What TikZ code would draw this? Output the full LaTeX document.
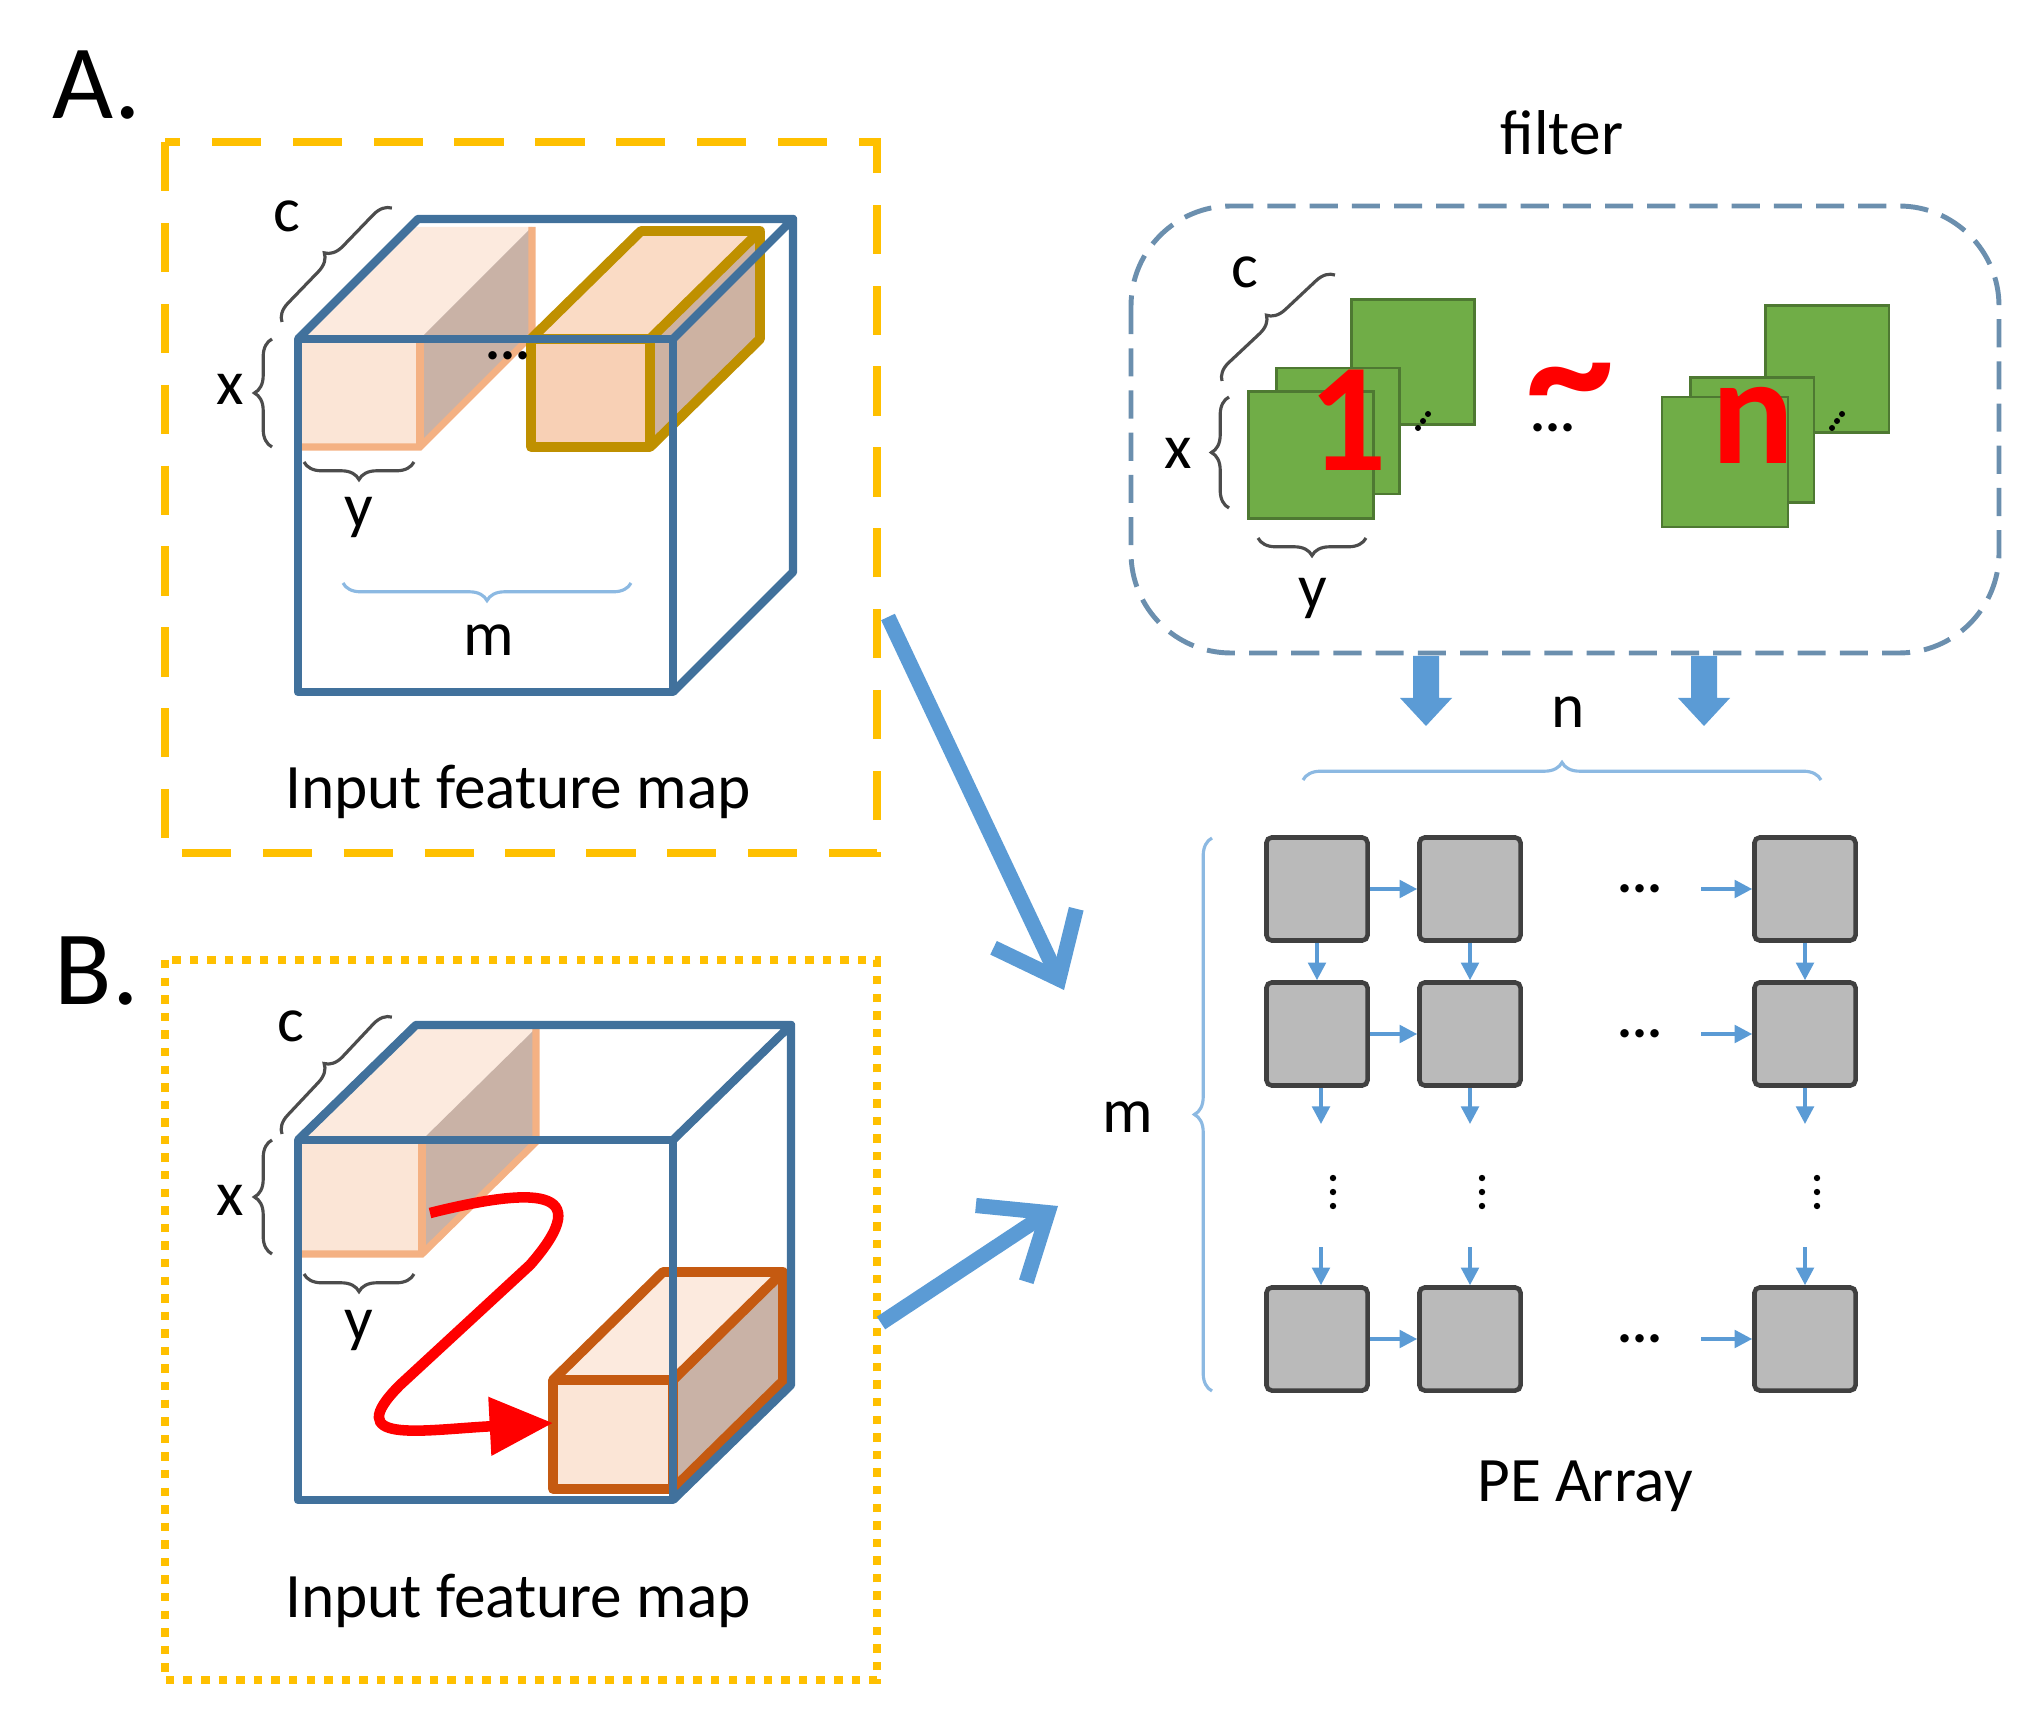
\documentclass[tikz,border=0pt]{standalone}
\usepackage{fontspec}
\setmainfont{Carlito}
\usepackage{xcolor}
\usetikzlibrary{calc,arrows.meta,decorations.pathreplacing}
\definecolor{cubeblue}{HTML}{41719C}
\definecolor{flowblue}{HTML}{5B9BD5}
\definecolor{peach}{HTML}{FBE5D6}
\definecolor{peachtop}{HTML}{FCEADE}
\definecolor{sidetone}{HTML}{C9B2A6}
\definecolor{peachline}{HTML}{F4B183}
\definecolor{goldline}{HTML}{BF9000}
\definecolor{rustline}{HTML}{C55A11}
\definecolor{filtgreen}{HTML}{70AD47}
\definecolor{boxgold}{HTML}{FFC000}
\tikzset{
  lbl/.style={font=\fontsize{18}{19}\selectfont},
  dots/.style={font=\fontsize{16}{16}\selectfont\bfseries},
  cube/.style={cubeblue, line width=2.4pt, line join=round},
  brc/.style={decorate, decoration={brace, amplitude=5pt, aspect=0.5}, black!70, line width=0.9pt},
  lbrc/.style={decorate, decoration={brace, amplitude=5pt}, flowblue!70, line width=0.9pt},
  pe/.style={draw=black!75, fill=black!27, line width=1.3pt, rounded corners=1.5pt, minimum width=1.01cm, minimum height=1.03cm, inner sep=0pt},
  sheet/.style={draw=filtgreen!70!black, fill=filtgreen, line width=0.6pt},
  link/.style={flowblue, line width=1pt, -{Triangle[length=5pt, width=5pt]}},
  bigarrow/.style={flowblue, line width=4.3pt, -{Straight Barb[length=16pt, width=26pt, line width=4.3pt]}},
}
\begin{document}
\begin{tikzpicture}[x=0.01cm, y=-0.01cm]
  \useasboundingbox (0,0) rectangle (2030,1725);
  % panel A
  \node[font=\fontsize{30}{32}\selectfont] (labA) at (97,85) {A.};
  \draw[boxgold, line width=2.2pt, dash pattern=on 14pt off 9pt] (165,142) rectangle (877,853);
  \fill[peachtop] (298,339) -- (420,339) -- (532,227) -- (410,227) -- cycle;
  \fill[sidetone] (420,339) -- (532,227) -- (532,335) -- (420,447) -- cycle;
  \fill[peach] (298,339) rectangle (420,447);
  \draw[peachline, line width=2pt] (298,447) -- (420,447) -- (532,335) -- (532,227);
  \draw[peachline, line width=2pt] (420,339) -- (420,447);
  \fill[peach!80!peachline] (531,339) -- (650,339) -- (760,231) -- (641,231) -- cycle;
  \fill[sidetone!90!peachline] (650,339) -- (760,231) -- (760,339) -- (650,447) -- cycle;
  \fill[peach!60!peachline] (531,339) rectangle (650,447);
  \draw[goldline, line width=2.8pt, line join=round] (531,339) rectangle (650,447)
    (531,339) -- (641,231) -- (760,231) -- (650,339) (760,231) -- (760,339) -- (650,447);
  \node[dots] (dotsA) at (508,356) {...};
  \draw[cube] (298,339) rectangle (673,692);
  \draw[cube] (298,339) -- (418,219) -- (793,219) -- (673,339) (793,219) -- (793,572) -- (673,692);
  \draw[brc] (282,322) -- (392,208);
  \node[lbl] (cA) at (287,216) {c};
  \draw[brc] (272,447) -- (272,339);
  \node[lbl] (xA) at (230,389) {x};
  \draw[brc] (414,462) -- (304,462);
  \node[lbl] (yA) at (359,517) {y};
  \draw[lbrc] (631,583) -- (343,583);
  \node[lbl] (mA) at (489,640) {m};
  \node[lbl] (ifmA) at (518,792) {Input feature map};
  % panel B
  \node[font=\fontsize{30}{32}\selectfont] (labB) at (97,971) {B.};
  \draw[boxgold, line width=2.4pt, dash pattern=on 2.4pt off 2.6pt] (165,960) rectangle (877,1680);
  \fill[peachtop] (298,1140) -- (422,1140) -- (536,1028) -- (412,1028) -- cycle;
  \fill[sidetone] (422,1140) -- (536,1028) -- (536,1142) -- (422,1254) -- cycle;
  \fill[peach] (298,1140) rectangle (422,1254);
  \draw[peachline, line width=2pt] (298,1254) -- (422,1254) -- (536,1142) -- (536,1028);
  \draw[peachline, line width=2pt] (422,1140) -- (422,1254);
  \fill[peachtop] (553,1380) -- (673,1380) -- (783,1272) -- (663,1272) -- cycle;
  \fill[sidetone] (673,1380) -- (783,1272) -- (783,1381) -- (673,1489) -- cycle;
  \fill[peach] (553,1380) rectangle (673,1489);
  \draw[rustline, line width=2.8pt, line join=round] (553,1380) rectangle (673,1489)
    (553,1380) -- (663,1272) -- (783,1272) -- (673,1380) (783,1272) -- (783,1381) -- (673,1489);
  \draw[cube] (298,1140) rectangle (673,1500);
  \draw[cube] (298,1140) -- (416,1025) -- (791,1025) -- (673,1140) (791,1025) -- (791,1385) -- (673,1500);
  \draw[red, line width=3pt, -{Triangle[length=18pt, width=16pt]}]
    (430,1213) .. controls (530,1188) and (600,1185) .. (530,1265)
    -- (400,1385) .. controls (340,1445) and (420,1430) .. (553,1423);
  \draw[brc] (282,1134) -- (392,1017);
  \node[lbl] (cB) at (291,1026) {c};
  \draw[brc] (272,1254) -- (272,1140);
  \node[lbl] (xB) at (230,1200) {x};
  \draw[brc] (414,1274) -- (304,1274);
  \node[lbl] (yB) at (359,1330) {y};
  \node[lbl] (ifmB) at (518,1601) {Input feature map};
  % filter
  \node[lbl] (filt) at (1562,133) {filter};
  \draw[flowblue!55!gray, line width=1.4pt, dash pattern=on 8pt off 4pt, rounded corners=1cm] (1131,206) rectangle (1999,653);
  \node[sheet, minimum width=1.23cm, minimum height=1.25cm] (f1c) at (1413,362) {};
  \node[sheet, minimum width=1.23cm, minimum height=1.26cm] (f1b) at (1338,431) {};
  \node[sheet, minimum width=1.25cm, minimum height=1.27cm] (f1a) at (1311,455) {};
  \node[red, font=\fontsize{44}{44}\selectfont\bfseries] (one) at (1348,420) {1};
  \node[sheet, minimum width=1.23cm, minimum height=1.27cm] (fnc) at (1827,369) {};
  \node[sheet, minimum width=1.23cm, minimum height=1.25cm] (fnb) at (1752,440) {};
  \node[sheet, minimum width=1.26cm, minimum height=1.30cm] (fna) at (1725,462) {};
  \node[red, font=\fontsize{44}{44}\selectfont\bfseries] (enn) at (1753,425) {n};
  \foreach \px in {1423,1837} {
    \fill (\px-5,428) circle (3) (\px,421) circle (3) (\px+5,414) circle (3);
  }
  \node[red, font=\fontsize{50}{50}\selectfont\bfseries] (tilde) at (1570,396) {\char`~};
  \node[dots] (dotsF) at (1553,428) {...};
  \draw[brc] (1222,381) -- (1335,275);
  \node[lbl] (cF) at (1245,272) {c};
  \draw[brc] (1229,508) -- (1229,397);
  \node[lbl] (xF) at (1178,453) {x};
  \draw[brc] (1366,538) -- (1258,538);
  \node[lbl] (yF) at (1313,598) {y};
  \foreach \ax in {1426,1704} {
    \fill[flowblue] (\ax-13,656) -- (\ax+13,656) -- (\ax+13,698) -- (\ax+26,698) -- (\ax,726) -- (\ax-26,698) -- (\ax-13,698) -- cycle;
  }
  \node[lbl] (nF) at (1568,712) {n};
  \draw[lbrc] (1303,780) -- (1821,780);
  % PE array
  \foreach \r/\py in {1/889, 2/1034, 3/1339} {
    \foreach \c/\qx in {1/1317, 2/1470, 3/1805} {
      \node[pe] (pe-\r-\c) at (\qx,\py) {};
    }
    \draw[link] (pe-\r-1) -- (pe-\r-2);
    \coordinate (in-\r) at (1701,\py);
    \draw[link] (in-\r) -- (pe-\r-3);
    \node[dots] (hd-\r) at (1640,\py) {...};
  }
  \foreach \c/\qx in {1/1321, 2/1470, 3/1805} {
    \draw[link] (pe-1-\c) -- (pe-2-\c);
    \coordinate (out-\c) at (\qx,1124);
    \draw[link] (pe-2-\c.south -| out-\c) -- (out-\c);
    \coordinate (back-\c) at (\qx,1247);
    \draw[link] (back-\c) -- (pe-3-\c.north -| back-\c);
    \fill (\qx+12,1178) circle (3.2) (\qx+12,1192) circle (3.2) (\qx+12,1206) circle (3.2);
  }
  \draw[lbrc] (1212,1391) -- (1212,838);
  \node[lbl] (mF) at (1128,1117) {m};
  \node[lbl] (pearr) at (1585,1486) {PE Array};
  % big arrows
  \coordinate (fromA) at (888,617);
  \coordinate (toA) at (1064,990);
  \draw[bigarrow] (fromA) -- (toA);
  \coordinate (fromB) at (881,1323);
  \coordinate (toB) at (1058,1206);
  \draw[bigarrow] (fromB) -- (toB);
\end{tikzpicture}
\end{document}
